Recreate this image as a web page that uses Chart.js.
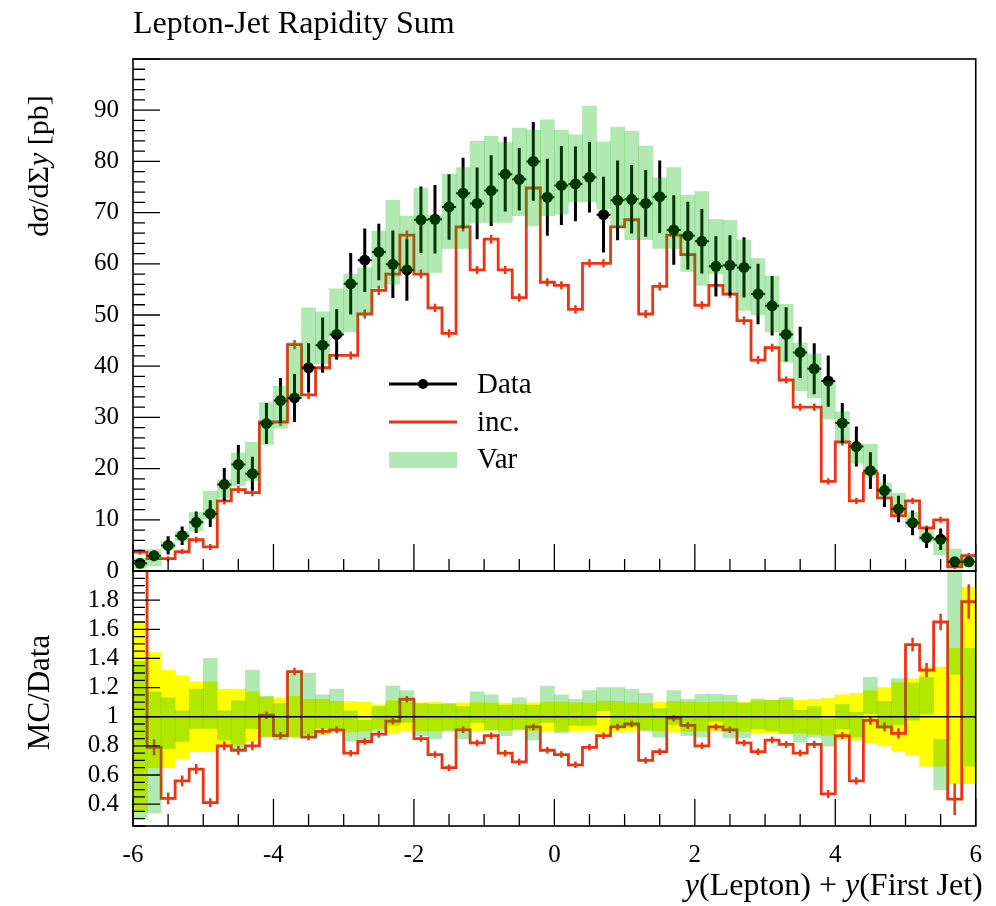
<!DOCTYPE html>
<html>
<head>
<meta charset="utf-8">
<title>Lepton-Jet Rapidity Sum</title>
<script src="https://cdn.jsdelivr.net/npm/chart.js"></script>
<style>
  html, body { margin: 0; padding: 0; background: #fff; }
  #wrap { position: relative; width: 996px; height: 906px; }
</style>
</head>
<body>
<div id="wrap"><canvas id="plot" width="996" height="906"></canvas></div>
<script>
const SERIF = '"Liberation Serif", "Times New Roman", serif';
const RED = '#ee3311';
const BAND = 'rgba(0, 178, 0, 0.3)';

// histogram binning: 60 bins of 0.2 between -6 and 6
const xMin = -6, xMax = 6, nBins = 60;
const binWidth = (xMax - xMin) / nBins;
const binCentres = Array.from({length: nBins}, (_, i) => xMin + (i + 0.5) * binWidth);
const binEdges = Array.from({length: nBins + 1}, (_, i) => xMin + i * binWidth);

// tick labels
const xTickLabels = [-6, -4, -2, 0, 2, 4, 6];
const mainTickLabels = [0, 10, 20, 30, 40, 50, 60, 70, 80, 90];
const ratioTickLabels = [0.4, 0.6, 0.8, 1, 1.2, 1.4, 1.6, 1.8];

// measured dsigma/dSigma y [pb] and its errors
const dataVals = [1.5, 3.0, 5.0, 6.9, 9.5, 11.2, 16.9, 20.8, 19.0, 28.8,
  33.3, 33.8, 39.7, 44.1, 46.2, 56.1, 60.7, 62.3, 59.9, 58.8,
  68.6, 68.7, 71.1, 73.8, 71.8, 74.3, 77.5, 76.5, 80.0, 73.0,
  75.3, 75.6, 76.9, 69.6, 72.4, 72.6, 71.8, 73.1, 66.6, 65.5,
  64.4, 59.5, 59.7, 59.3, 54.1, 51.8, 46.2, 42.7, 39.5, 37.1,
  28.9, 24.3, 19.6, 15.7, 12.1, 9.4, 6.5, 6.2, 1.8, 1.8];
const dataErr = [0.6, 1.0, 1.8, 1.8, 2.1, 2.6, 3.2, 3.8, 3.3, 4.0,
  4.4, 4.7, 4.8, 5.4, 4.9, 6.0, 6.2, 5.5, 6.6, 6.0,
  6.5, 6.7, 6.4, 6.9, 7.0, 6.9, 7.3, 6.1, 7.7, 7.5,
  7.7, 7.3, 6.9, 7.4, 7.8, 6.7, 6.5, 7.1, 6.8, 6.6,
  6.3, 5.9, 5.9, 5.9, 5.9, 5.8, 5.3, 5.0, 5.0, 5.0,
  3.9, 3.9, 3.6, 3.2, 2.6, 2.4, 2.0, 2.1, 0.8, 0.8];

// "inc." prediction
const mcVals = [3.7, 2.4, 2.4, 3.8, 6.1, 4.7, 13.7, 15.9, 15.3, 29.1,
  29.1, 44.2, 34.4, 39.7, 42.1, 42.1, 50.2, 54.8, 58.0, 65.6,
  58.0, 51.4, 46.4, 67.2, 58.8, 64.8, 58.8, 53.4, 74.8, 56.4,
  55.8, 51.1, 60.1, 60.1, 67.2, 68.6, 50.2, 55.6, 65.6, 61.8,
  51.9, 55.8, 54.1, 48.9, 41.2, 43.6, 37.3, 32.0, 32.0, 17.5,
  25.2, 13.7, 19.1, 14.3, 10.8, 13.7, 8.4, 10.0, 0.8, 3.0];
const mcErr = [0.2, 0.2, 0.2, 0.2, 0.3, 0.3, 0.4, 0.4, 0.4, 0.5,
  0.5, 0.6, 0.5, 0.5, 0.5, 0.5, 0.6, 0.6, 0.6, 0.6,
  0.6, 0.5, 0.5, 0.6, 0.5, 0.6, 0.5, 0.5, 0.6, 0.5,
  0.5, 0.5, 0.5, 0.5, 0.6, 0.6, 0.5, 0.5, 0.6, 0.5,
  0.5, 0.5, 0.5, 0.5, 0.5, 0.5, 0.4, 0.4, 0.4, 0.3,
  0.4, 0.3, 0.3, 0.3, 0.3, 0.3, 0.2, 0.3, 0.1, 0.2];

// "Var" envelope
const varLo = [0.5, 1.0, 4.3, 5.9, 7.9, 10.2, 14.3, 16.6, 17.6, 24.7,
  27.9, 33.8, 40.5, 40.5, 46.2, 46.7, 49.9, 55.3, 56.0, 58.5,
  58.3, 58.3, 63.0, 63.0, 68.1, 68.1, 68.1, 69.4, 67.4, 69.4,
  69.7, 72.1, 72.1, 70.7, 67.1, 64.7, 64.7, 63.0, 63.0, 58.5,
  55.8, 58.0, 54.6, 50.9, 50.0, 46.7, 40.8, 35.2, 33.8, 29.7,
  25.4, 21.0, 18.3, 14.6, 11.2, 8.5, 5.9, 3.2, 1.0, 0.8];
const varHi = [2.5, 4.2, 5.7, 7.7, 11.4, 15.6, 17.8, 23.1, 25.2, 32.9,
  36.1, 44.6, 51.4, 50.6, 55.1, 58.0, 59.2, 66.4, 72.4, 69.3,
  74.8, 69.4, 77.5, 78.8, 83.9, 84.9, 83.7, 86.5, 86.1, 88.1,
  86.1, 85.2, 90.8, 83.8, 86.7, 85.9, 83.0, 76.8, 78.8, 73.4,
  74.1, 68.7, 68.5, 64.7, 61.0, 57.6, 52.1, 44.5, 42.4, 37.1,
  31.1, 24.9, 24.8, 17.2, 15.2, 11.4, 7.9, 6.5, 4.3, 2.8];

// MC/Data ratio panel
const ratioMc = [2.45, 0.79, 0.44, 0.56, 0.64, 0.41, 0.80, 0.77, 0.80, 1.01,
  0.87, 1.31, 0.86, 0.90, 0.91, 0.75, 0.83, 0.88, 0.97, 1.12,
  0.85, 0.74, 0.65, 0.91, 0.82, 0.87, 0.75, 0.69, 0.93, 0.77,
  0.74, 0.67, 0.79, 0.87, 0.93, 0.95, 0.70, 0.76, 0.99, 0.94,
  0.80, 0.93, 0.91, 0.82, 0.76, 0.84, 0.81, 0.75, 0.81, 0.47,
  0.87, 0.56, 0.975, 0.93, 0.886, 1.495, 1.32, 1.65, 0.434, 1.79];
const ratioMcErr = [0.10, 0.045, 0.03, 0.027, 0.025, 0.02, 0.02, 0.02, 0.02, 0.015,
  0.015, 0.015, 0.012, 0.012, 0.012, 0.012, 0.012, 0.012, 0.012, 0.012,
  0.012, 0.012, 0.012, 0.012, 0.012, 0.012, 0.012, 0.012, 0.012, 0.012,
  0.012, 0.012, 0.012, 0.012, 0.012, 0.012, 0.012, 0.012, 0.012, 0.012,
  0.012, 0.012, 0.012, 0.012, 0.012, 0.012, 0.013, 0.013, 0.014, 0.017,
  0.015, 0.015, 0.02, 0.02, 0.025, 0.037, 0.038, 0.046, 0.098, 0.108];
const ratioDataLo = [0.35, 0.65, 0.65, 0.71, 0.76, 0.76, 0.81, 0.81, 0.83, 0.865,
  0.87, 0.86, 0.88, 0.88, 0.895, 0.895, 0.90, 0.918, 0.89, 0.90,
  0.905, 0.902, 0.91, 0.905, 0.903, 0.907, 0.906, 0.915, 0.904, 0.90,
  0.90, 0.905, 0.906, 0.892, 0.895, 0.905, 0.91, 0.902, 0.895, 0.90,
  0.902, 0.90, 0.90, 0.90, 0.89, 0.888, 0.885, 0.888, 0.88, 0.872,
  0.85, 0.84, 0.82, 0.80, 0.765, 0.74, 0.66, 0.66, 0.54, 0.54];
const ratioDataHi = [1.65, 1.44, 1.32, 1.28, 1.24, 1.24, 1.19, 1.19, 1.17, 1.135,
  1.13, 1.14, 1.12, 1.12, 1.105, 1.105, 1.10, 1.082, 1.11, 1.10,
  1.095, 1.098, 1.09, 1.095, 1.097, 1.093, 1.094, 1.085, 1.096, 1.10,
  1.10, 1.095, 1.094, 1.108, 1.105, 1.095, 1.09, 1.098, 1.105, 1.10,
  1.098, 1.10, 1.10, 1.10, 1.11, 1.112, 1.115, 1.112, 1.12, 1.128,
  1.15, 1.16, 1.18, 1.20, 1.235, 1.26, 1.34, 1.34, 1.47, 1.89];
const ratioVarLo = [0.30, 0.34, 0.78, 0.83, 0.92, 0.92, 0.84, 0.78, 0.92, 0.86,
  0.84, 0.86, 0.86, 0.92, 0.92, 0.83, 0.84, 0.90, 0.94, 0.96,
  0.87, 0.85, 0.90, 0.85, 0.96, 0.91, 0.87, 0.91, 0.84, 0.96,
  0.89, 0.94, 0.94, 1.04, 0.93, 0.93, 0.90, 0.86, 0.946, 0.87,
  0.861, 0.968, 0.854, 0.854, 0.918, 0.902, 0.884, 0.826, 0.86, 0.797,
  0.918, 0.86, 1.02, 0.92, 0.943, 0.977, 1.018, 0.497, 1.29, 0.66];
const ratioVarHi = [1.38, 1.17, 1.13, 1.04, 1.19, 1.40, 1.04, 1.11, 1.32, 1.14,
  1.09, 1.31, 1.30, 1.15, 1.19, 1.04, 0.975, 1.07, 1.21, 1.18,
  1.09, 1.085, 1.09, 1.07, 1.17, 1.15, 1.08, 1.13, 1.08, 1.21,
  1.15, 1.12, 1.18, 1.20, 1.20, 1.19, 1.16, 1.055, 1.18, 1.12,
  1.153, 1.153, 1.146, 1.094, 1.123, 1.112, 1.132, 1.043, 1.07, 0.986,
  1.084, 1.03, 1.27, 1.105, 1.262, 1.233, 1.27, 0.845, 2.35, 1.47];

// helpers turning the arrays into chart points
const points = vals => vals.map((v, i) => ({x: binCentres[i], y: v}));
const spans = (lo, hi) => lo.map((l, i) => ({x: binCentres[i], y: [l, hi[i]]}));
const steps = vals => binEdges.map((e, i) => ({x: e, y: vals[Math.min(i, vals.length - 1)]}));

function fixedTicks(list) {
  return scale => { scale.ticks = list.map(v => ({value: v})); };
}
const fmt = v => String(Math.round(v * 10) / 10);

function tickList(min, max, step) {
  const out = [];
  for (let k = Math.ceil(min / step - 1e-6); k * step <= max + 1e-6; k++) out.push(k * step);
  return out;
}
const isMultiple = (v, step) => Math.abs(v / step - Math.round(v / step)) < 1e-6;

// text with italic pieces, parts = [[text, italic], ...]
function richText(ctx, parts, x, y, size, align) {
  const fonts = parts.map(p => (p[1] ? 'italic ' : '') + size + 'px ' + SERIF);
  let total = 0;
  const widths = parts.map((p, i) => {
    ctx.font = fonts[i];
    const w = ctx.measureText(p[0]).width;
    total += w;
    return w;
  });
  let cx = align === 'right' ? x - total : align === 'center' ? x - total / 2 : x;
  ctx.textAlign = 'left';
  ctx.textBaseline = 'alphabetic';
  parts.forEach((p, i) => {
    ctx.font = fonts[i];
    ctx.fillText(p[0], cx, y);
    cx += widths[i];
  });
}

const decor = {
  id: 'decor',
  beforeDatasetDraw(chart, args) {
    const ctx = chart.ctx;
    const ds = chart.data.datasets[args.index];
    const xs = args.meta.xScale, ys = args.meta.yScale;
    ctx.save();
    ctx.beginPath();
    ctx.rect(xs.left, ys.top, xs.right - xs.left, ys.bottom - ys.top);
    ctx.clip();
    if (ds.errs) {
      // data error bars under the markers
      ctx.strokeStyle = '#000';
      ds.data.forEach((p, i) => {
        const px = xs.getPixelForValue(p.x);
        const py = ys.getPixelForValue(p.y);
        ctx.lineWidth = 3;
        ctx.beginPath();
        ctx.moveTo(px, ys.getPixelForValue(p.y - ds.errs[i]));
        ctx.lineTo(px, ys.getPixelForValue(p.y + ds.errs[i]));
        ctx.stroke();
        ctx.lineWidth = 2;
        ctx.beginPath();
        ctx.moveTo(xs.getPixelForValue(p.x - binWidth / 2), py);
        ctx.lineTo(xs.getPixelForValue(p.x + binWidth / 2), py);
        ctx.stroke();
      });
    }
  },
  afterDatasetDraw(chart, args) {
    const ctx = chart.ctx;
    const ds = chart.data.datasets[args.index];
    const xs = args.meta.xScale, ys = args.meta.yScale;
    if (ds.tickErrs) {
      // small MC uncertainty marks at the bin centres
      ctx.strokeStyle = RED;
      ctx.lineWidth = 2.5;
      ds.tickVals.forEach((v, i) => {
        const px = xs.getPixelForValue(binCentres[i]);
        ctx.beginPath();
        ctx.moveTo(px, ys.getPixelForValue(v - ds.tickErrs[i]) + 1.5);
        ctx.lineTo(px, ys.getPixelForValue(v + ds.tickErrs[i]) - 1.5);
        ctx.stroke();
      });
    }
    ctx.restore();
  },
  afterDatasetsDraw(chart) {
    const ctx = chart.ctx;
    const xs = chart.scales.x, ym = chart.scales.y, yr = chart.scales.yr;
    const L = xs.left, R = xs.right;

    // reference line at ratio 1
    ctx.strokeStyle = '#000';
    ctx.lineWidth = 1.5;
    ctx.beginPath();
    ctx.moveTo(L, yr.getPixelForValue(1));
    ctx.lineTo(R, yr.getPixelForValue(1));
    ctx.stroke();

    // inward tick marks
    ctx.lineWidth = 1.3;
    ctx.beginPath();
    tickList(ym.min, ym.max, 2).forEach(v => {
      const py = ym.getPixelForValue(v);
      ctx.moveTo(L, py);
      ctx.lineTo(L + (isMultiple(v, 10) ? 27 : 12), py);
    });
    tickList(yr.min, yr.max, 0.05).forEach(v => {
      const py = yr.getPixelForValue(v);
      ctx.moveTo(L, py);
      ctx.lineTo(L + (isMultiple(v, 0.2) ? 27 : 12), py);
    });
    [ym, yr].forEach(s => {
      tickList(xs.min, xs.max, 0.5).forEach(v => {
        const px = xs.getPixelForValue(v);
        ctx.moveTo(px, s.bottom);
        ctx.lineTo(px, s.bottom - (isMultiple(v, 2) ? 27 : 12));
      });
    });
    ctx.stroke();

    // panel frames
    ctx.lineWidth = 1.6;
    ctx.strokeRect(L, ym.top, R - L, ym.bottom - ym.top);
    ctx.strokeRect(L, yr.top, R - L, yr.bottom - yr.top);

    // legend
    const lx = L + 256, tx = L + 344, top = ym.top;
    ctx.lineWidth = 3;
    ctx.strokeStyle = '#000';
    ctx.beginPath();
    ctx.moveTo(lx, top + 325);
    ctx.lineTo(lx + 68, top + 325);
    ctx.stroke();
    ctx.fillStyle = '#000';
    ctx.beginPath();
    ctx.arc(lx + 34, top + 325, 5, 0, Math.PI * 2);
    ctx.fill();
    ctx.strokeStyle = RED;
    ctx.lineWidth = 2.8;
    ctx.beginPath();
    ctx.moveTo(lx, top + 363);
    ctx.lineTo(lx + 68, top + 363);
    ctx.stroke();
    ctx.fillStyle = BAND;
    ctx.fillRect(lx, top + 393, 68, 16);
    ctx.fillStyle = '#000';
    richText(ctx, [['Data', false]], tx, top + 334, 29, 'left');
    richText(ctx, [['inc.', false]], tx, top + 372, 29, 'left');
    richText(ctx, [['Var', false]], tx, top + 409, 29, 'left');
  },
  afterDraw(chart) {
    const ctx = chart.ctx;
    const xs = chart.scales.x, ym = chart.scales.y, yr = chart.scales.yr;
    ctx.save();
    ctx.fillStyle = '#000';
    richText(ctx, [['Lepton-Jet Rapidity Sum', false]], xs.left, 33, 32, 'left');
    richText(ctx, [['y', true], ['(Lepton) + ', false], ['y', true], ['(First Jet)', false]],
      xs.right + 7, 895, 32, 'right');

    ctx.save();
    ctx.translate(48, (ym.top + ym.bottom) / 2 - 149);
    ctx.rotate(-Math.PI / 2);
    richText(ctx, [['d', false], ['σ', true], ['/d', false], ['Σ', false], ['y', true], [' [pb]', false]],
      0, 0, 30, 'center');
    ctx.restore();

    ctx.save();
    ctx.translate(49, (yr.top + yr.bottom) / 2 - 6);
    ctx.rotate(-Math.PI / 2);
    richText(ctx, [['MC/Data', false]], 0, 0, 31, 'center');
    ctx.restore();
    ctx.restore();
  }
};

const tickFont = {family: SERIF, size: 25};

new Chart(document.getElementById('plot'), {
  type: 'bar',
  data: {
    datasets: [
      {
        type: 'bar', label: 'Var', data: spans(varLo, varHi), yAxisID: 'y',
        backgroundColor: BAND, borderWidth: 0, grouped: false,
        barPercentage: 1, categoryPercentage: 1, order: 0
      },
      {
        type: 'bar', label: 'Var ratio', data: spans(ratioVarLo, ratioVarHi), yAxisID: 'yr',
        backgroundColor: BAND, borderWidth: 0, grouped: false,
        barPercentage: 1, categoryPercentage: 1, order: 0
      },
      {
        type: 'line', label: 'Data', data: points(dataVals), yAxisID: 'y',
        showLine: false, pointRadius: 5.5, pointBackgroundColor: '#000',
        pointBorderWidth: 0, errs: dataErr, order: 1
      },
      {
        type: 'line', label: 'inc.', data: steps(mcVals), yAxisID: 'y',
        stepped: true, borderColor: RED, borderWidth: 2.8, pointRadius: 0,
        fill: false, tickVals: mcVals, tickErrs: mcErr, order: 2
      },
      {
        type: 'line', label: 'inc. ratio', data: steps(ratioMc), yAxisID: 'yr',
        stepped: true, borderColor: RED, borderWidth: 2.8, pointRadius: 0,
        fill: false, tickVals: ratioMc, tickErrs: ratioMcErr, order: 2
      },
      {
        type: 'bar', label: 'Data ratio', data: spans(ratioDataLo, ratioDataHi), yAxisID: 'yr',
        backgroundColor: '#ffff00', borderWidth: 0, grouped: false,
        barPercentage: 1, categoryPercentage: 1, order: 3
      }
    ]
  },
  options: {
    responsive: false,
    animation: false,
    events: [],
    layout: {padding: {top: 59, right: 11, bottom: 0, left: 0}},
    plugins: {legend: {display: false}, tooltip: {enabled: false}, title: {display: false}},
    scales: {
      x: {
        type: 'linear', min: xMin, max: xMax, offset: false,
        grid: {display: false, drawTicks: false, offset: false},
        border: {display: false},
        afterBuildTicks: fixedTicks(xTickLabels),
        ticks: {font: tickFont, color: '#000', padding: 14, maxRotation: 0, autoSkip: false, callback: fmt},
        afterFit: s => { s.height = 80; }
      },
      // the ratio axis is listed first so that the stacked layout puts it underneath
      yr: {
        type: 'linear', position: 'left', stack: 'panels', stackWeight: 255,
        min: 0.25, max: 2.0,
        grid: {display: false, drawTicks: false},
        border: {display: false},
        afterBuildTicks: fixedTicks(ratioTickLabels),
        ticks: {font: tickFont, color: '#000', padding: 14, autoSkip: false, callback: fmt},
        afterFit: s => { s.width = 133; }
      },
      y: {
        type: 'linear', position: 'left', stack: 'panels', stackWeight: 512,
        min: 0, max: 100,
        grid: {display: false, drawTicks: false},
        border: {display: false},
        afterBuildTicks: fixedTicks(mainTickLabels),
        ticks: {font: tickFont, color: '#000', padding: 14, autoSkip: false, callback: fmt},
        afterFit: s => { s.width = 133; }
      }
    }
  },
  plugins: [decor]
});
</script>
</body>
</html>
